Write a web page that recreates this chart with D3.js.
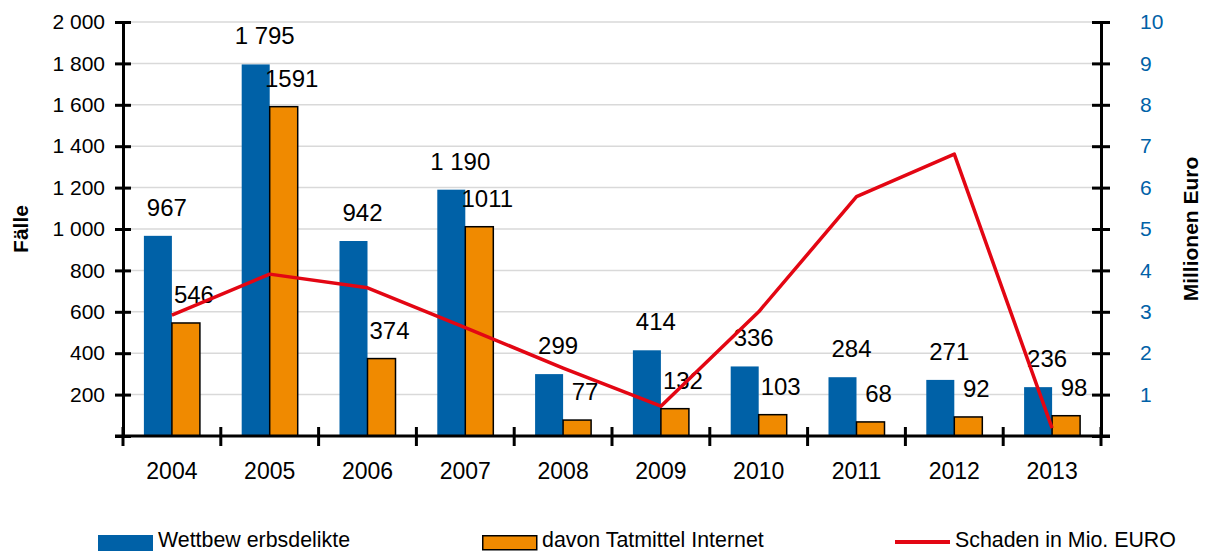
<!DOCTYPE html>
<html>
<head>
<meta charset="utf-8">
<script src="https://cdn.jsdelivr.net/npm/d3@7"></script>
<style>
    body { margin: 0; background: #fff; }
    svg { display: block; font-family: "Liberation Sans", Arial, sans-serif; }
</style>
</head>
<body>
<svg id="chart" width="1207" height="552"></svg>
<script>
// values
const years = ["2004", "2005", "2006", "2007", "2008", "2009", "2010", "2011", "2012", "2013"];
const cases = [967, 1795, 942, 1190, 299, 414, 336, 284, 271, 236];
const internetCases = [546, 1591, 374, 1011, 77, 132, 103, 68, 92, 98];
const damage = [2.92, 3.91, 3.58, 2.62, 1.64, 0.72, 3.0, 5.78, 6.81, 0.19];
const leftTicks = [0, 200, 400, 600, 800, 1000, 1200, 1400, 1600, 1800, 2000];
const rightTicks = [0, 1, 2, 3, 4, 5, 6, 7, 8, 9, 10];
const legendLabels = ["Wettbew erbsdelikte", "davon Tatmittel Internet", "Schaden in Mio. EURO"];

const BLUE = "#0061a7";
const ORANGE = "#f08a00";
const RED = "#e30613";

const margin = {top: 22, right: 106, bottom: 116, left: 123};
const width = 1207, height = 552;

const svg = d3.select("#chart");

const locale = d3.formatLocale({decimal: ",", thousands: " ", grouping: [3], currency: ["", "€"]});
const fmt = locale.format(",");

const x = d3.scaleBand()
    .domain(years)
    .range([margin.left, width - margin.right]);

const xSub = d3.scaleBand()
    .domain(["cases", "internet"])
    .range([0, x.bandwidth()])
    .paddingOuter(0.746);

const y = d3.scaleLinear()
    .domain([0, 2000])
    .range([height - margin.bottom, margin.top]);

const y2 = d3.scaleLinear()
    .domain([0, 10])
    .range([height - margin.bottom, margin.top]);

const x0 = margin.left, x1 = width - margin.right, yBase = y(0);

// gridlines
svg.append("g")
    .selectAll("line")
    .data(leftTicks.filter(d => d > 0))
    .join("line")
    .attr("x1", x0)
    .attr("x2", x1)
    .attr("y1", d => y(d))
    .attr("y2", d => y(d))
    .attr("stroke", "#d9d9d9")
    .attr("stroke-width", 1.5);

// bars
const groups = svg.append("g")
    .selectAll("g")
    .data(years)
    .join("g")
    .attr("transform", d => "translate(" + x(d) + ",0)");

groups.append("rect")
    .attr("x", xSub("cases"))
    .attr("width", xSub.bandwidth())
    .attr("y", (d, i) => y(cases[i]))
    .attr("height", (d, i) => yBase - y(cases[i]))
    .attr("fill", BLUE);

groups.append("rect")
    .attr("x", xSub("internet"))
    .attr("width", xSub.bandwidth())
    .attr("y", (d, i) => y(internetCases[i]))
    .attr("height", (d, i) => yBase - y(internetCases[i]))
    .attr("fill", ORANGE)
    .attr("stroke", "#000")
    .attr("stroke-width", 1.5);

// line
const line = d3.line()
    .x((d, i) => x(years[i]) + x.bandwidth() / 2)
    .y(d => y2(d));

svg.append("path")
    .datum(damage)
    .attr("d", line)
    .attr("fill", "none")
    .attr("stroke", RED)
    .attr("stroke-width", 3.5)
    .attr("stroke-linejoin", "round");

// data labels
groups.append("text")
    .attr("x", xSub("cases") + xSub.bandwidth() / 2 + 9)
    .attr("y", (d, i) => y(cases[i]) - 20)
    .attr("text-anchor", "middle")
    .attr("font-size", 24)
    .text((d, i) => fmt(cases[i]));

groups.append("text")
    .attr("x", xSub("internet") + xSub.bandwidth() / 2 + 8)
    .attr("y", (d, i) => y(internetCases[i]) - 20)
    .attr("text-anchor", "middle")
    .attr("font-size", 24)
    .text((d, i) => internetCases[i]);

// axes
const leftAxis = svg.append("g")
    .attr("transform", "translate(" + x0 + ",0)")
    .call(d3.axisLeft(y).tickValues(leftTicks).tickSize(8).tickSizeOuter(0).tickPadding(10)
        .tickFormat(d => d === 0 ? "" : fmt(d)));

const rightAxis = svg.append("g")
    .attr("transform", "translate(" + x1 + ",0)")
    .call(d3.axisRight(y2).tickValues(rightTicks).tickSize(9).tickSizeOuter(0).tickPadding(30)
        .tickFormat(d => d === 0 ? "" : d));

const bottomAxis = svg.append("g")
    .attr("transform", "translate(0," + yBase + ")")
    .call(d3.axisBottom(x).tickSize(0).tickPadding(27));

leftAxis.selectAll(".tick line").attr("x1", 8);
rightAxis.selectAll(".tick line").attr("x1", -9);

[leftAxis, rightAxis, bottomAxis].forEach(g => {
    g.attr("font-family", null);
    g.selectAll(".domain").attr("stroke", "#000").attr("stroke-width", 3);
    g.selectAll(".tick line").attr("stroke", "#000").attr("stroke-width", 3);
    g.selectAll(".tick text").attr("font-size", 21).attr("fill", g === rightAxis ? BLUE : "#000");
});
bottomAxis.selectAll(".tick text").attr("font-size", 23);
bottomAxis.select(".domain").attr("d", "M" + (x0 - 8) + ",0H" + (x1 + 9));

// category boundary ticks on the x axis
bottomAxis.append("g")
    .selectAll("line")
    .data(years.map(d => x(d)).concat([x1]))
    .join("line")
    .attr("x1", d => d)
    .attr("x2", d => d)
    .attr("y1", -9)
    .attr("y2", 10)
    .attr("stroke", "#000")
    .attr("stroke-width", 3);

// axis titles
svg.append("text")
    .attr("transform", "translate(20," + (margin.top + (yBase - margin.top) / 2) + ") rotate(-90)")
    .attr("text-anchor", "middle")
    .attr("dominant-baseline", "central")
    .attr("font-size", 21)
    .attr("font-weight", "bold")
    .text("Fälle");

svg.append("text")
    .attr("transform", "translate(1190," + (margin.top + (yBase - margin.top) / 2) + ") rotate(-90)")
    .attr("text-anchor", "middle")
    .attr("dominant-baseline", "central")
    .attr("font-size", 21)
    .attr("font-weight", "bold")
    .text("Millionen Euro");

// legend
const legendX = [98, 482, 895];
const legend = svg.append("g")
    .selectAll("g")
    .data(legendLabels)
    .join("g")
    .attr("transform", (d, i) => "translate(" + legendX[i] + ",0)");

legend.filter((d, i) => i === 0).append("rect")
    .attr("x", 0).attr("y", 535).attr("width", 55).attr("height", 16)
    .attr("fill", BLUE);

legend.filter((d, i) => i === 1).append("rect")
    .attr("x", 0.75).attr("y", 535.75).attr("width", 54).attr("height", 14)
    .attr("fill", ORANGE)
    .attr("stroke", "#000")
    .attr("stroke-width", 1.5);

legend.filter((d, i) => i === 2).append("line")
    .attr("x1", 0).attr("x2", 55).attr("y1", 542).attr("y2", 542)
    .attr("stroke", RED)
    .attr("stroke-width", 4);

legend.append("text")
    .attr("transform", "translate(60,547) scale(0.93,1)")
    .attr("font-size", 23)
    .text(d => d);
</script>
</body>
</html>
